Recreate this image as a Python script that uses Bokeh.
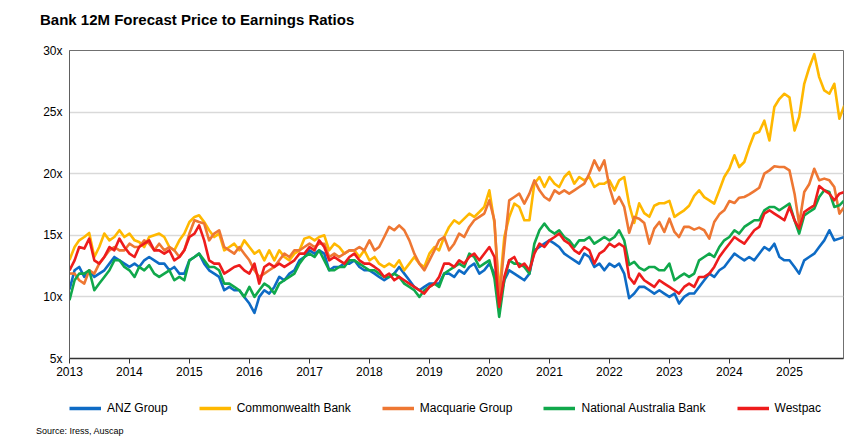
import pandas as pd
from bokeh.plotting import figure
from bokeh.layouts import column
from bokeh.models import (Range1d, FixedTicker, PrintfTickFormatter, DatetimeTickFormatter,
                          Legend, LegendItem, Div)
from bokeh.embed import file_html
from bokeh.resources import INLINE

# monthly observations, Jan 2013 .. Dec 2025
dates = pd.date_range("2013-01-01", periods=156, freq="MS")

anz = [10.6, 12.16, 12.43, 11.62, 12.16, 11.62, 11.89, 12.16, 12.70, 13.24, 12.97, 12.70, 12.43, 12.70, 12.43, 12.97, 13.24, 12.97, 12.70, 12.70, 12.16, 12.43, 11.89, 11.89, 12.97, 13.24, 13.51, 12.70, 12.16, 11.89, 11.62, 10.54, 10.81, 10.54, 10.54, 10.0,
       9.46, 8.7, 10.0, 10.54, 10.27, 10.81, 11.62, 11.35, 11.89, 12.16, 12.97, 13.24, 13.78, 13.51, 13.78, 13.51, 12.16, 12.43, 12.43, 12.70, 12.70, 12.97, 12.43, 12.16, 12.16, 11.89, 11.62, 11.35, 11.62, 11.89, 12.43, 11.89, 11.35, 10.81, 10.54, 10.81, 11.08, 11.08,
       11.08, 11.89, 11.89, 11.62, 12.16, 11.89, 12.43, 12.70, 11.89, 12.16, 12.70, 11.89, 9.46, 11.35, 12.16, 11.89, 11.62, 11.35, 11.89, 13.78, 14.05, 14.32, 14.59, 14.32, 14.05, 13.51, 13.24, 12.97, 12.70, 13.51, 13.24, 12.43, 12.70, 12.16, 12.70, 12.43, 12.70, 11.89,
       9.9, 10.27, 10.81, 10.81, 10.54, 10.27, 10.54, 10.27, 10.0, 10.27, 9.46, 10.0, 10.27, 10.27, 10.81, 11.35, 11.89, 11.62, 12.16, 12.43, 12.97, 13.51, 13.24, 12.97, 13.24, 12.97, 13.51, 14.05, 13.78, 14.32, 13.24, 12.97, 12.97, 12.43, 11.89, 12.97, 13.24, 13.51, 14.05, 14.59, 15.41, 14.59, 14.73, 14.86]

cba = [13.0, 14.05, 14.59, 14.86, 15.19, 13.24, 14.05, 15.14, 14.59, 14.86, 15.41, 14.86, 15.14, 14.59, 14.46, 14.05, 14.86, 15.0, 15.14, 14.86, 14.05, 13.78, 14.59, 15.14, 16.08, 16.49, 16.62, 16.08, 15.41, 14.86, 15.14, 13.78, 14.05, 14.32, 13.78, 14.59,
       14.05, 13.51, 13.78, 12.97, 13.78, 12.97, 13.78, 13.24, 12.97, 13.51, 13.78, 14.73, 14.86, 14.59, 14.86, 15.0, 13.78, 14.32, 14.05, 13.51, 13.78, 13.78, 13.24, 13.78, 12.97, 13.24, 12.70, 12.43, 12.70, 12.43, 12.97, 12.16, 12.70, 13.24, 12.70, 12.43, 13.51, 14.05,
       13.78, 14.86, 15.68, 16.22, 15.95, 16.35, 16.76, 16.49, 16.89, 17.30, 18.65, 16.0, 10.3, 14.86, 16.49, 17.57, 17.30, 16.22, 16.22, 19.19, 19.73, 18.92, 19.73, 19.19, 18.92, 19.73, 20.14, 19.19, 19.73, 19.46, 19.73, 18.92, 19.19, 19.19, 19.46, 18.65, 19.46, 19.73,
       17.5, 16.0, 17.6, 16.8, 16.5, 17.4, 17.6, 17.6, 17.8, 16.5, 16.76, 17.03, 17.4, 18.2, 18.65, 18.1, 17.84, 17.57, 18.65, 19.73, 20.4, 21.5, 20.54, 20.95, 22.16, 23.24, 23.4, 24.3, 22.7, 25.41, 26.08, 26.49, 26.2, 23.5, 24.6, 27.3, 28.6, 29.7, 27.84, 26.76, 26.49, 27.3, 24.46, 25.54]

mqg = [11.9, 11.89, 11.35, 11.08, 12.16, 11.89, 12.70, 13.24, 13.78, 14.05, 13.78, 13.78, 14.32, 14.05, 14.05, 14.59, 14.32, 13.78, 14.32, 13.78, 14.05, 13.78, 13.24, 13.78, 15.14, 16.22, 16.08, 15.95, 14.59, 15.14, 15.41, 14.05, 13.78, 13.51, 14.05, 13.51,
       12.97, 12.16, 11.62, 11.89, 12.16, 12.43, 12.97, 13.51, 13.24, 13.78, 13.78, 14.05, 14.32, 14.05, 14.32, 14.32, 13.24, 13.51, 13.24, 13.51, 13.78, 13.78, 14.05, 13.78, 14.59, 13.78, 14.05, 14.86, 15.68, 15.41, 15.81, 15.41, 14.59, 13.51, 12.70, 12.16, 12.97, 13.78,
       14.59, 14.86, 13.78, 14.32, 15.14, 14.86, 15.68, 16.22, 16.49, 16.76, 17.84, 16.2, 9.73, 14.05, 17.84, 18.11, 18.38, 17.57, 18.38, 19.46, 18.65, 18.11, 17.84, 18.65, 18.38, 18.65, 18.38, 18.65, 18.92, 19.19, 20.0, 21.08, 20.27, 21.08, 18.92, 17.57, 18.11, 17.30,
       15.2, 16.49, 16.35, 16.0, 14.32, 15.54, 16.08, 15.27, 16.35, 15.27, 14.86, 15.68, 15.68, 15.46, 15.62, 15.41, 14.73, 16.08, 16.7, 17.03, 17.78, 17.62, 18.05, 18.11, 18.32, 18.59, 18.86, 20.0, 20.27, 20.6, 20.54, 20.54, 20.27, 18.38, 15.9, 18.51, 19.14, 20.4, 19.46, 19.6, 19.46, 18.92, 16.76, 17.30]

nab = [9.73, 11.35, 11.89, 11.89, 12.16, 10.54, 11.08, 11.62, 12.16, 12.97, 12.97, 12.43, 12.16, 11.62, 12.43, 12.16, 12.57, 11.89, 11.62, 11.89, 12.16, 11.35, 11.62, 11.35, 12.97, 13.24, 13.51, 12.97, 12.43, 12.43, 12.16, 11.08, 11.08, 10.81, 10.54, 10.0,
       10.81, 10.0, 10.54, 11.08, 10.81, 10.27, 11.08, 11.35, 11.62, 11.89, 12.70, 13.24, 13.51, 13.24, 13.78, 12.97, 12.16, 12.16, 12.43, 12.43, 12.97, 12.97, 12.70, 12.43, 12.16, 12.16, 11.89, 11.62, 11.62, 11.89, 11.62, 11.08, 10.81, 10.54, 10.0, 10.54, 10.81, 11.08,
       10.81, 11.89, 12.16, 12.43, 12.70, 12.43, 13.51, 13.24, 12.43, 12.70, 12.97, 11.5, 8.38, 11.35, 12.97, 12.70, 12.70, 12.43, 11.89, 14.32, 15.41, 15.95, 15.41, 15.14, 15.41, 14.86, 14.59, 14.05, 14.59, 14.59, 14.86, 14.32, 14.59, 14.86, 14.59, 14.86, 15.41, 14.59,
       12.6, 12.84, 12.38, 12.16, 12.43, 12.43, 12.16, 12.16, 12.70, 11.35, 11.62, 11.89, 11.62, 11.89, 12.97, 13.24, 13.51, 13.24, 14.05, 14.59, 14.86, 15.41, 15.14, 15.68, 15.95, 16.22, 16.22, 17.03, 17.30, 17.30, 17.03, 17.30, 17.57, 16.22, 15.14, 16.62, 16.89, 17.16, 18.11, 18.65, 18.51, 17.30, 17.43, 17.84]

wbc = [12.16, 12.97, 14.05, 13.92, 14.73, 12.97, 12.70, 13.24, 14.05, 13.78, 14.73, 14.05, 13.51, 13.24, 14.05, 14.32, 14.59, 13.78, 13.78, 13.51, 13.78, 12.97, 13.24, 13.78, 14.86, 15.14, 15.8, 14.59, 12.97, 12.70, 12.70, 11.89, 12.16, 12.43, 12.57, 12.16,
       11.89, 12.70, 11.08, 12.43, 12.70, 12.43, 12.70, 12.43, 12.70, 12.97, 13.51, 13.51, 14.05, 13.78, 14.59, 14.05, 12.97, 13.24, 12.97, 12.70, 13.24, 13.51, 12.97, 12.70, 12.70, 12.43, 12.16, 11.62, 11.89, 11.35, 11.62, 11.35, 11.08, 10.81, 10.54, 10.27, 10.81, 11.08,
       11.62, 12.70, 12.70, 12.43, 12.97, 12.70, 13.24, 13.51, 12.97, 13.51, 14.05, 13.24, 9.19, 11.62, 12.97, 13.24, 12.43, 12.70, 12.16, 13.51, 14.32, 14.05, 14.59, 14.86, 15.14, 14.59, 14.32, 13.78, 13.51, 14.05, 13.78, 12.70, 13.51, 13.78, 14.32, 14.05, 14.32, 14.05,
       11.6, 11.08, 11.89, 11.35, 11.08, 10.81, 11.35, 11.08, 10.81, 10.54, 10.27, 10.81, 11.08, 10.81, 11.62, 11.62, 11.89, 12.43, 13.24, 13.78, 14.32, 14.86, 14.59, 14.32, 14.86, 15.41, 15.68, 16.76, 17.03, 16.76, 16.49, 16.22, 17.30, 16.22, 15.54, 16.89, 17.16, 17.43, 19.0, 18.65, 18.38, 17.84, 18.38, 18.51]

names = ["ANZ Group", "Commonwealth Bank", "Macquarie Group", "National Australia Bank", "Westpac"]
values = [anz, cba, mqg, nab, wbc]
colors = ["#0E6BC5", "#FFB800", "#EE7733", "#10A84B", "#EE1C1C"]

y_ticks = [5, 10, 15, 20, 25, 30]
x_tick_years = list(range(2013, 2026))

chart_title = "Bank 12M Forecast Price to Earnings Ratios"
source_note = "Source: Iress, Auscap"

FONT = "Liberation Sans"
W = 857
LW = 2.6

# ---- title ----
title_div = Div(
    text=(f'<div style="font-family:\'{FONT}\';font-size:15px;font-weight:bold;color:#000;'
          f'line-height:18px;padding:11px 0 0 40px;white-space:nowrap;">{chart_title}</div>'),
    width=W, height=40, margin=(0, 0, 0, 0))

# ---- main chart ----
p = figure(width=W, height=352, x_axis_type="datetime", output_backend="svg",
           toolbar_location=None,
           x_range=Range1d(pd.Timestamp("2013-01-01"), pd.Timestamp("2025-11-26")),
           y_range=Range1d(5, 30),
           min_border_left=69, min_border_right=14, min_border_top=10, min_border_bottom=34)
p.background_fill_color = "white"
p.border_fill_color = "white"
p.outline_line_color = "#707070"
p.outline_line_width = 1

for name, vals, col in zip(names, values, colors):
    p.line(dates, vals, line_color=col, line_width=LW, line_join="round")

p.yaxis.ticker = FixedTicker(ticks=y_ticks)
p.yaxis.formatter = PrintfTickFormatter(format="%dx")
p.yaxis.axis_line_color = "#606060"
p.yaxis.major_tick_line_color = None
p.yaxis.minor_tick_line_color = None
p.yaxis.major_tick_out = 0
p.yaxis.major_tick_in = 0
p.yaxis.minor_tick_out = 0
p.yaxis.major_label_standoff = 7

p.xaxis.ticker = FixedTicker(ticks=[pd.Timestamp(f"{y}-01-01").timestamp() * 1000 for y in x_tick_years])
p.xaxis.formatter = DatetimeTickFormatter(years="%Y", months="%Y", days="%Y", hours="%Y",
                                          minutes="%Y", seconds="%Y", milliseconds="%Y")
p.xaxis.axis_line_color = "#333333"
p.xaxis.axis_line_width = 1.5
p.xaxis.major_tick_line_color = "#333333"
p.xaxis.major_tick_out = 5
p.xaxis.major_tick_in = 0
p.xaxis.minor_tick_line_color = None
p.xaxis.minor_tick_out = 0
p.xaxis.major_label_standoff = 3

for ax in (p.xaxis, p.yaxis):
    ax.major_label_text_font = FONT
    ax.major_label_text_font_size = "12px"
    ax.major_label_text_color = "#000000"

p.xgrid.grid_line_color = None
p.ygrid.grid_line_color = "#D9D9D9"
p.ygrid.grid_line_width = 1.5

# ---- legend strip (its frame lines up with the chart frame) ----
key = figure(width=W, height=30, output_backend="svg", toolbar_location=None,
             x_axis_location=None, y_axis_location=None,
             min_border_left=69, min_border_right=14, min_border_top=0, min_border_bottom=0,
             x_range=Range1d(0, 1), y_range=Range1d(0, 1))
key.xgrid.grid_line_color = None
key.ygrid.grid_line_color = None
key.outline_line_color = None
key.background_fill_color = "white"
key.border_fill_color = "white"
# same series, drawn outside this strip's view: only their legend samples show
key_lines = [key.line(dates, vals, line_color=col, line_width=LW + 1)
             for vals, col in zip(values, colors)]
legend = Legend(items=[LegendItem(label=n, renderers=[r]) for n, r in zip(names, key_lines)],
                orientation="horizontal", location=(0, 7),
                glyph_width=32, glyph_height=14, label_height=14, label_standoff=6, spacing=31,
                padding=0, margin=0, border_line_color=None, background_fill_alpha=0,
                label_text_font=FONT, label_text_font_size="12px", label_text_color="#000000")
key.add_layout(legend)

# ---- source note ----
source_div = Div(
    text=(f'<div style="font-family:\'{FONT}\';font-size:9px;color:#000;line-height:11px;'
          f'padding:1px 0 0 36px;white-space:nowrap;">{source_note}</div>'),
    width=W, height=25, margin=(0, 0, 0, 0))

layout = column(title_div, p, key, source_div, spacing=0)
open("out.html", "w").write(file_html(layout, INLINE))
